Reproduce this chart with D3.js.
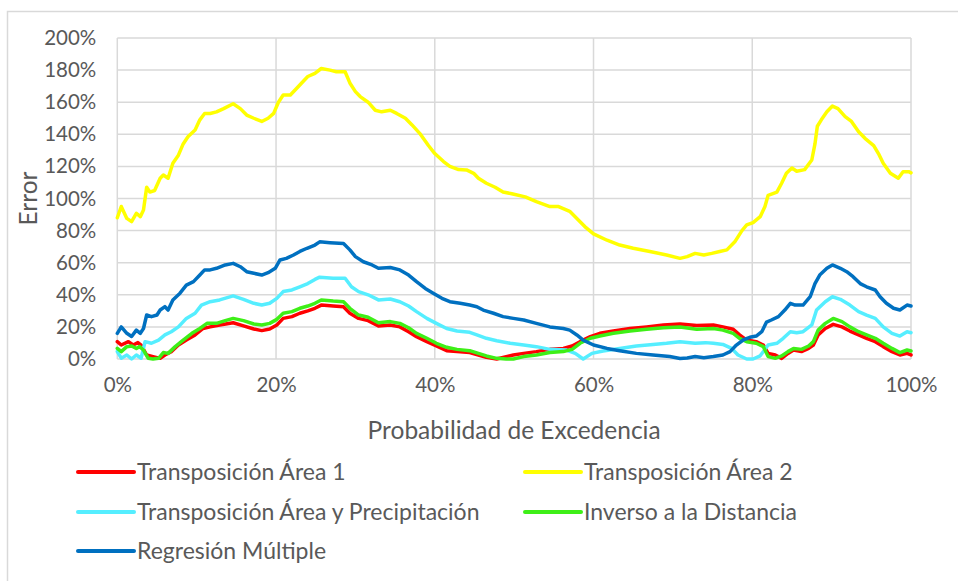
<!DOCTYPE html>
<html>
<head>
<meta charset="utf-8">
<script src="https://cdn.jsdelivr.net/npm/d3@7"></script>
<style>
  html, body { margin: 0; padding: 0; background: #fff; }
  svg { display: block; }
  text { font-family: Lato, "Open Sans", sans-serif; fill: #595959; }
</style>
</head>
<body>
<svg id="chart" width="958" height="581"></svg>
<script>
// ---- Data (x = Probabilidad de Excedencia %, y = Error %) ----
const xTicks = [0, 20, 40, 60, 80, 100];
const yTicks = [0, 20, 40, 60, 80, 100, 120, 140, 160, 180, 200];
const seriesNames = ["Transposición Área 1", "Transposición Área 2", "Transposición Área y Precipitación", "Inverso a la Distancia", "Regresión Múltiple"];
const seriesColors = ["#FF0000", "#FFFF00", "#55EEFF", "#3EEF17", "#0070C0"];

const area1 = [[0,10.8],[0.5,8.7],[1.4,10.8],[2,8.7],[2.6,10.2],[3,8.7],[3.7,2.5],[4.5,1.5],[5.4,0.4],[6,2.5],[6.8,4.6],[7.7,8.7],[8.7,11.8],[9.8,15],[10.8,19],[11.7,20],[12.9,21.2],[14.6,22.6],[15.9,20.6],[17.2,18.7],[18.2,17.7],[19.2,18.7],[20.1,21.2],[20.9,25.3],[22,26.4],[23,28.5],[24,30],[24.9,31.6],[25.7,33.6],[27.2,33],[28.5,32.6],[29.3,28.5],[30.4,25.3],[31.6,23.9],[32.9,20.6],[34.4,21.2],[35.6,20],[36.7,17],[37.7,13.9],[39,10.8],[40.2,8.1],[41.5,5.2],[42.8,4.6],[44.4,4],[45.5,2.5],[46.5,1],[47.8,0],[49,1.5],[49.9,2.5],[51.2,3.5],[52.8,4.6],[54.5,6],[56.2,6.6],[57.3,8.1],[58.3,10.8],[59.6,13.9],[60.8,16],[62.5,17.4],[64.6,19],[66.7,20],[68.8,21.2],[70.9,21.8],[73,20.8],[75.1,21.2],[76.3,20],[77.6,18.5],[78.4,15],[79.3,11.8],[80.5,10.8],[81.4,8.7],[82,3.5],[82.9,2.5],[83.7,0.4],[84.5,3.5],[85.2,5.6],[86.2,4.6],[87.1,6.6],[87.7,8.7],[88.3,15],[89.2,19],[90.2,21.6],[91.3,20],[92.3,17.4],[93.4,15],[94.4,12.9],[95.5,10.8],[96.5,7.7],[97.6,4.6],[98.6,2.5],[99.5,3.5],[100,2.5]];

const area2 = [[0,88],[0.5,95],[1.2,87.6],[1.8,85.6],[2.4,90.8],[2.9,88.7],[3.3,92.8],[3.7,107],[4.1,104],[4.7,105],[5.4,112.6],[5.8,114.6],[6.4,112.6],[7,122],[7.7,127],[8.3,134],[8.9,138.5],[9.8,142.7],[10.4,149],[11,153],[11.7,153],[12.5,154],[13.4,156],[14.6,159],[15.5,156],[16.3,152],[17.2,150],[18.2,148],[19,150],[19.7,153],[20.3,160],[20.9,164.5],[21.8,164.5],[22.4,167.6],[23.2,171.8],[24,176],[24.9,178],[25.7,181],[26.8,180],[27.6,179],[28.7,179],[29.3,172],[30,166.6],[30.6,163.5],[31.6,160],[32.5,155],[33.3,154],[34.4,155],[35.2,153],[36.3,150],[37.1,146],[38.1,140.6],[39.2,133],[40,128],[41.1,123],[41.9,120],[43,118],[44,117.8],[44.9,115.7],[45.5,112.6],[46.5,109.5],[47.6,107],[48.6,104],[49.7,103],[51.4,101],[52.8,98],[54.5,95],[55.6,95],[57,92],[57.9,87.6],[58.9,82.5],[60,78],[61.7,74],[63.3,71],[65,69],[67.1,67],[69.2,64.8],[70.9,62.7],[71.8,63.8],[72.8,65.8],[73.9,64.8],[74.9,65.8],[75.9,67],[76.8,68],[77.8,73],[78.7,80],[79.3,83.5],[80.1,85],[81,88.7],[81.6,95],[82,102],[83.1,104],[83.7,109.5],[84.3,115.7],[85,119],[85.6,117],[86.6,118],[87.5,124],[87.9,134],[88.2,145],[88.7,149],[89.4,154],[90.1,157.6],[90.8,156],[91.7,151],[92.5,148],[93.4,141.6],[94.2,137.5],[95.3,133],[95.9,128],[96.5,122],[97.4,115.7],[98.4,112.6],[99,116.7],[99.7,116.7],[100,116]];

const areaPrecip = [[0,4.6],[0.5,0.5],[1.2,2.5],[1.8,0],[2.4,2.5],[3,0.5],[3.5,10.8],[4.3,9.8],[5.2,11.8],[6,15],[6.8,17],[7.7,20],[8.7,25.3],[9.8,28.5],[10.6,33.6],[11.7,35.7],[12.9,36.8],[14.6,39.3],[15.9,37.2],[17.2,34.7],[18.2,33.6],[19.2,34.7],[20.1,37.8],[20.9,42],[22,43],[23,45],[24,47],[24.9,49.6],[25.5,51],[27.2,50.3],[28.7,50.3],[29.5,45],[30.4,42],[31.6,40],[32.9,36.8],[34.4,37.4],[35.6,35.7],[36.7,33],[37.7,29.5],[39,25.3],[40.2,22.2],[41.5,19],[42.8,17.4],[44.4,16.6],[45.3,15],[46.5,12.9],[47.8,11.4],[49.5,9.8],[51.2,8.7],[52.8,7.7],[54.5,6],[56.6,5.6],[57.7,3.5],[58.7,0],[59.8,3.5],[61.2,5],[63.3,6.6],[65.4,8.1],[67.5,9.1],[69.2,9.8],[70.9,10.8],[72.8,9.8],[74.1,10.2],[75.1,9.8],[76.3,9.1],[77.4,6.6],[78.2,2.5],[79.3,0],[80.1,0],[81,2],[82,8.7],[83.1,9.8],[83.9,12.9],[84.8,17],[85.6,16.4],[86.4,17],[87.5,21.2],[88.1,30.5],[89.2,35.7],[90.1,38.8],[91.1,37.2],[92.3,33.6],[93.4,29.5],[94.4,27.4],[95.5,25.3],[96.5,20],[97.6,16],[98.6,14.3],[99.5,17],[100,16.4]];

const inverseDist = [[0,6.6],[0.5,4.6],[1.2,7.7],[1.8,8.1],[2.4,6.6],[2.8,7.7],[3.3,5.6],[3.9,0.4],[4.5,0],[5.2,0.4],[5.8,4],[6.4,3.5],[7.3,7.7],[8.3,11.8],[9.4,16],[10.4,19],[11.3,22.2],[12.5,22.2],[13.6,23.9],[14.6,25.3],[15.9,23.9],[17.2,21.8],[18.2,21.2],[19.2,22.2],[20.1,24.7],[20.9,28.5],[22,29.5],[23,31.6],[24,33],[24.9,34.7],[25.7,36.8],[27.2,36.1],[28.5,35.7],[29.3,31.6],[30.4,27.4],[31.6,26],[32.9,22.6],[34.4,23.3],[35.6,22.2],[36.7,19.5],[37.7,16],[39,12.9],[40.2,9.8],[41.5,7.3],[42.8,6],[44.4,5.2],[45.5,3.5],[46.5,1.9],[47.8,0.4],[49,0],[49.9,0],[51.2,1.5],[52.8,2.5],[54.5,4],[56.2,4.6],[57.3,6],[58.3,9.8],[59.6,12.9],[60.8,14.3],[62.5,16],[64.6,17.4],[66.7,18.5],[68.8,19.5],[70.9,20],[73,18.5],[75.1,19],[76.3,18],[77.6,16],[78.4,12.9],[79.3,10.8],[80.5,9.8],[81.4,7.7],[82,1.5],[82.9,0.4],[83.7,1.9],[84.5,4.6],[85.2,6.6],[86.2,6],[87.1,8.1],[87.7,10.8],[88.3,18],[89.2,22.2],[90.2,25.3],[91.3,23.3],[92.3,20],[93.4,17],[94.4,15],[95.5,12.9],[96.5,9.8],[97.6,6.6],[98.6,4],[99.5,5.6],[100,5]];

const regresion = [[0,16],[0.5,20],[1.2,16],[1.8,14],[2.4,18],[2.9,16],[3.3,19],[3.7,27.4],[4.3,26.4],[5,27.4],[5.4,30.5],[6,32.6],[6.4,30.5],[7,36.8],[7.9,41],[8.7,46],[9.6,48.2],[10.4,52.3],[11,55.5],[11.7,55.5],[12.5,56.5],[13.6,58.6],[14.6,59.6],[15.5,57.5],[16.3,54.4],[17.2,53.4],[18.2,52.3],[19,53.8],[19.9,56.5],[20.5,61.7],[21.3,62.7],[22.2,64.8],[23,67],[23.9,69],[24.9,71],[25.5,73],[26.8,72.5],[28.5,72],[29.3,68],[30,63.8],[31,60.6],[32.1,58.6],[32.9,56.5],[34.4,57],[35.6,55.5],[36.7,52.3],[37.7,48.2],[38.8,44],[39.8,41],[40.9,37.8],[41.9,35.7],[43.2,34.7],[44.4,33.6],[45.3,32.6],[46.1,30.5],[47.4,28.5],[48.6,26.4],[49.9,25.3],[51.2,24.3],[52.8,22.2],[54.5,20],[56.2,19],[57,18],[57.9,15],[58.7,11.8],[60,8.7],[61.7,6.6],[63.3,5.2],[65.4,3.5],[67.5,2.5],[69.6,1.5],[70.9,0.3],[71.8,0.6],[72.8,1.5],[73.9,0.8],[75.1,1.5],[76.3,2.5],[77.2,4.6],[78,8.7],[78.9,12],[79.7,13.5],[80.5,14.3],[81.2,17],[81.8,23],[82.4,24.3],[83.3,26.4],[84.1,30.5],[84.8,34.7],[85.4,33.6],[86.4,33.6],[87.3,38.8],[87.9,47],[88.5,52.3],[89.4,56.5],[90.1,58.6],[91.1,56.5],[91.9,54.4],[92.7,51.3],[93.6,47],[94.4,45],[95.5,43],[96.1,38.8],[96.9,34.7],[97.8,31.6],[98.6,30.5],[99.5,33.6],[100,33]];

const seriesData = [area1, area2, areaPrecip, inverseDist, regresion];

// ---- Layout ----
const svg = d3.select("#chart");
const plot = { left: 117.3, right: 911, top: 38, bottom: 359 };
const x = d3.scaleLinear().domain([0, 100]).range([plot.left, plot.right]);
const y = d3.scaleLinear().domain([0, 200]).range([plot.bottom, plot.top]);

// chart outer border
svg.append("rect").attr("x", 7.5).attr("y", 11.5).attr("width", 1000).attr("height", 1000)
  .attr("fill", "none").attr("stroke", "#d9d9d9").attr("stroke-width", 1.5);

// gridlines
svg.append("g").selectAll("line").data(yTicks).join("line")
  .attr("x1", plot.left).attr("x2", plot.right)
  .attr("y1", d => y(d)).attr("y2", d => y(d))
  .attr("stroke", "#d9d9d9").attr("stroke-width", 1.5);
svg.append("g").selectAll("line").data(xTicks).join("line")
  .attr("x1", d => x(d)).attr("x2", d => x(d))
  .attr("y1", plot.top).attr("y2", plot.bottom)
  .attr("stroke", "#d9d9d9").attr("stroke-width", 1.5);

// axes (labels only)
const yAxis = d3.axisLeft(y).tickValues(yTicks).tickFormat(d => d + "%").tickSize(0).tickPadding(21);
const gy = svg.append("g").attr("transform", `translate(${plot.left},0)`).call(yAxis);
gy.select(".domain").remove();
gy.selectAll("text").attr("font-size", 20.5).attr("font-family", "Lato").attr("fill", "#595959");

const xAxis = d3.axisBottom(x).tickValues(xTicks).tickFormat(d => d + "%").tickSize(0).tickPadding(18);
const gx = svg.append("g").attr("transform", `translate(0,${plot.bottom})`).call(xAxis);
gx.select(".domain").remove();
gx.selectAll("text").attr("font-size", 20.5).attr("font-family", "Lato").attr("fill", "#595959");

// axis titles
svg.append("text").attr("x", (plot.left + plot.right) / 2).attr("y", 439)
  .attr("text-anchor", "middle").attr("font-size", 24.5).text("Probabilidad de Excedencia");
svg.append("text").attr("transform", `translate(37,${(plot.top + plot.bottom) / 2}) rotate(-90)`)
  .attr("text-anchor", "middle").attr("font-size", 24.5).text("Error");

// lines
const line = d3.line().x(d => x(d[0])).y(d => y(d[1]));
svg.append("g").selectAll("path").data(seriesData).join("path")
  .attr("d", line)
  .attr("fill", "none")
  .attr("stroke", (d, i) => seriesColors[i])
  .attr("stroke-width", 3.5)
  .attr("stroke-linejoin", "round")
  .attr("stroke-linecap", "round");

// legend
const legendPos = [[78, 472], [525, 472], [78, 512], [525, 512], [78, 551]];
const lg = svg.append("g").selectAll("g").data(seriesNames).join("g")
  .attr("transform", (d, i) => `translate(${legendPos[i][0]},${legendPos[i][1]})`);
lg.append("line").attr("x1", 0).attr("x2", 56).attr("y1", 0).attr("y2", 0)
  .attr("stroke", (d, i) => seriesColors[i]).attr("stroke-width", 4).attr("stroke-linecap", "round");
lg.append("text").attr("x", 59).attr("y", 0).attr("dy", "0.35em")
  .attr("font-size", 23).text(d => d);
</script>
</body>
</html>
